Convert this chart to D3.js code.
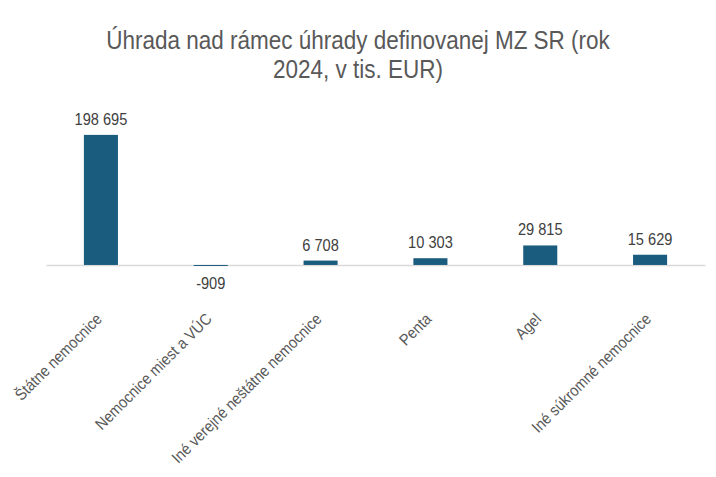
<!DOCTYPE html>
<html>
<head>
<meta charset="utf-8">
<script src="https://cdn.jsdelivr.net/npm/d3@7"></script>
<style>
  body { margin: 0; background: #fff; }
  svg text { font-family: "Liberation Sans Narrow", "Arial Narrow", "Liberation Sans", sans-serif; }
</style>
</head>
<body>
<svg id="mainSvg"></svg>
<script>
// data (tis. EUR)
const categories = ["Štátne nemocnice", "Nemocnice miest a VÚC", "Iné verejné neštátne nemocnice", "Penta", "Agel", "Iné súkromné nemocnice"];
const values = [198695, -909, 6708, 10303, 29815, 15629];
const titleLines = ["Úhrada nad rámec úhrady definovanej MZ SR (rok", "2024, v tis. EUR)"];
const yDomain = [-50000, 250000];

const width = 716, height = 477;
const narrow = 0.9; // no narrow font installed, squeeze the regular one
const svg = d3.select("#mainSvg").attr("width", width).attr("height", height);

const x = d3.scaleBand().domain(categories).range([46, 705]).paddingInner(0.69).paddingOuter(0.345);
const y = d3.scaleLinear().domain(yDomain).range([297.7, 101.3]);

const fmt = v => d3.format(",")(v).replace(/,/g, " ").replace("−", "-");

// title
svg.append("g")
  .attr("transform", `translate(${width / 2},48.5) scale(${narrow},1)`)
  .append("text")
  .attr("text-anchor", "middle")
  .style("font-size", "25px")
  .style("fill", "#595959")
  .selectAll("tspan")
  .data(titleLines)
  .join("tspan")
  .attr("x", 0)
  .attr("dy", (d, i) => i ? 30 : 0)
  .text(d => d);

// zero axis (under the bars so the tiny negative one still shows)
const axis = svg.append("g")
  .attr("transform", `translate(0,${y(0)})`)
  .call(d3.axisBottom(x).tickSize(0).tickFormat(""));
axis.select(".domain").attr("stroke", "#d9d9d9").attr("stroke-width", 1.5);

// bars
svg.selectAll(".bar")
  .data(values)
  .join("rect")
  .attr("class", "bar")
  .attr("x", (d, i) => x(categories[i]))
  .attr("width", x.bandwidth())
  .attr("y", d => y(Math.max(0, d)))
  .attr("height", d => Math.max(1, Math.abs(y(d) - y(0))))
  .attr("fill", "#1a5c7e");

// value labels
svg.selectAll(".val")
  .data(values)
  .join("text")
  .attr("class", "val")
  .attr("transform", (d, i) => {
    const cx = x(categories[i]) + x.bandwidth() / 2;
    const ty = d >= 0 ? y(d) - 10 : y(d) + 23;
    return `translate(${cx},${ty}) scale(${narrow - 0.04},1)`;
  })
  .attr("text-anchor", "middle")
  .style("font-size", "17px")
  .style("fill", "#404040")
  .text(d => fmt(d));

// category labels
svg.selectAll(".cat")
  .data(categories)
  .join("text")
  .attr("class", "cat")
  .attr("transform", d => `translate(${x(d) + x.bandwidth() / 2 + 2},${y(0) + 55}) rotate(-45) scale(${narrow},1)`)
  .attr("text-anchor", "end")
  .style("font-size", "16px")
  .style("fill", "#595959")
  .text(d => d);
</script>
</body>
</html>
